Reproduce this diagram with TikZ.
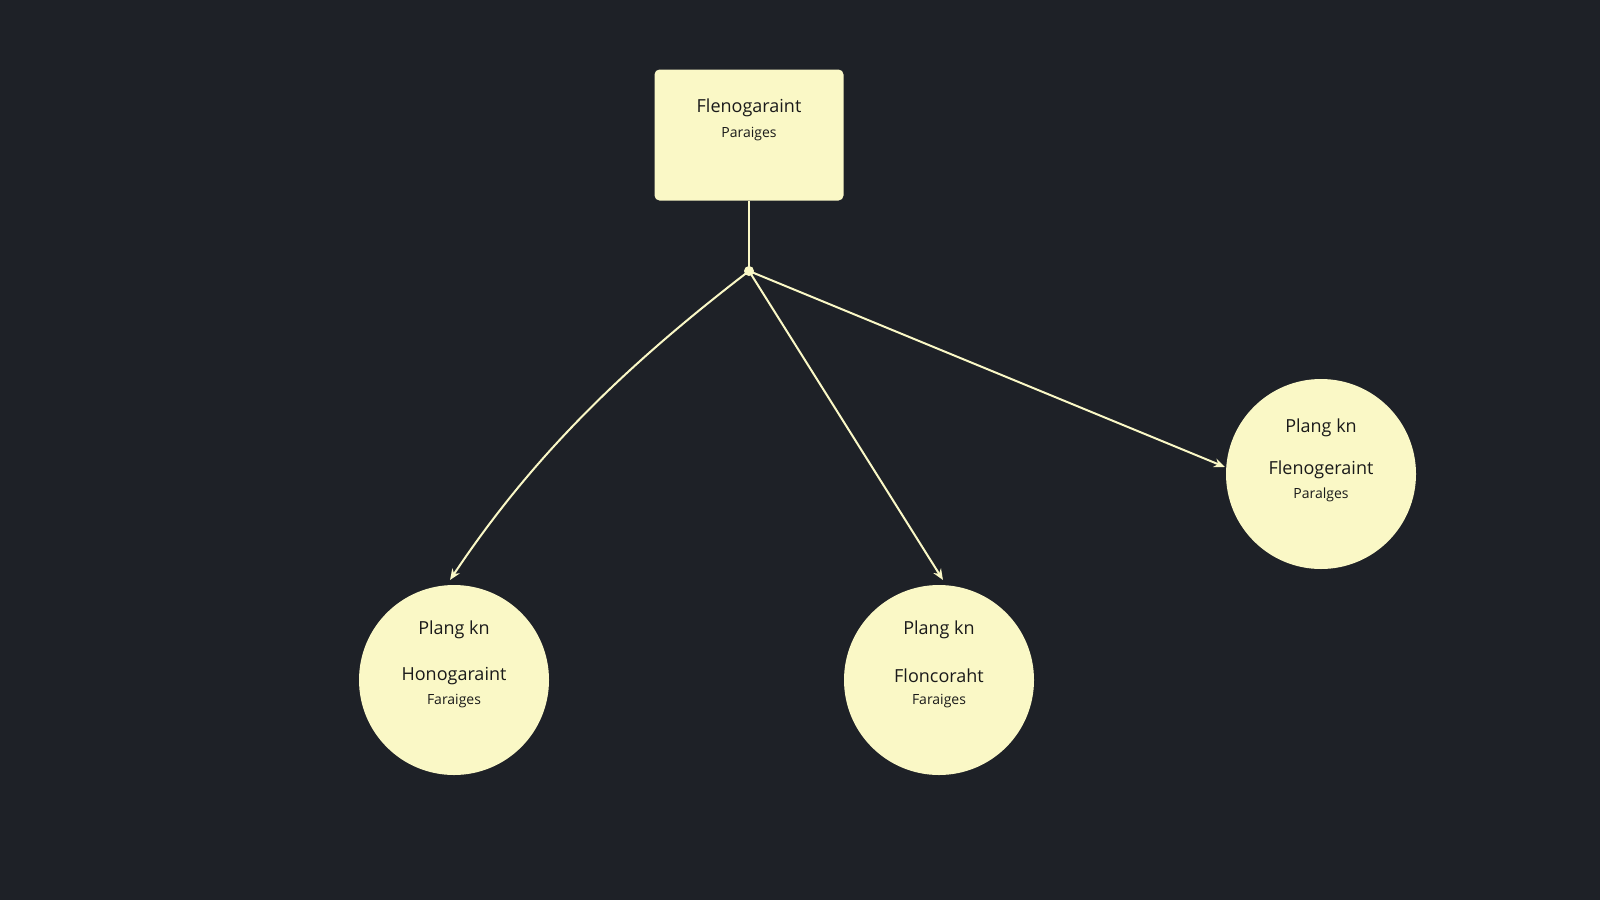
\documentclass[tikz,border=0pt]{standalone}
\usepackage{fontspec}
\setmainfont{Open Sans}
\usetikzlibrary{arrows.meta}
\definecolor{bg}{HTML}{1E2127}
\definecolor{pale}{HTML}{FAF8C6}
\definecolor{ink}{HTML}{1A1A1A}
\begin{document}
\begin{tikzpicture}[x=1pt,y=-1pt,
  box/.style={draw=none,fill=pale,rounded corners=5pt,minimum width=189pt,minimum height=131pt,inner sep=0pt},
  circ/.style={circle,fill=pale,minimum size=190pt,inner sep=0pt},
  big/.style={font=\fontsize{18}{20}\selectfont,text=ink},
  small/.style={font=\fontsize{14}{16}\selectfont,text=ink},
  link/.style={draw=pale,line width=2pt,-{Stealth[length=11pt,width=9pt]}}]
\fill[bg] (0,0) rectangle (1600,900);
\useasboundingbox (0,0) rectangle (1600,900);
\node[box] (top) at (749,135) {};
\node[big] (t1) at (749,108) {Flenogaraint};
\node[small] (t2) at (749,134) {Paraiges};
\coordinate (j) at (749,271);
\fill[pale] (j) circle (5pt);
\node[circ] (l) at (454,680) {};
\node[big] at (454,630) {Plang kn};
\node[big] at (454,676) {Honogaraint};
\node[small] at (454,701) {Faraiges};
\node[circ] (m) at (939,680) {};
\node[big] at (939,630) {Plang kn};
\node[big] at (939,676) {Floncoraht};
\node[small] at (939,701) {Faraiges};
\node[circ] (r) at (1321,474) {};
\node[big] at (1321,428) {Plang kn};
\node[big] at (1321,470) {Flenogeraint};
\node[small] at (1321,495) {Paralges};
\draw[draw=pale,line width=2pt] (top.south) -- (j);
\draw[link] (j) .. controls (620,370) and (530,460) .. (450,580);
\draw[link] (j) -- (943,580);
\draw[link] (j) -- (1225,467);
\end{tikzpicture}
\end{document}
